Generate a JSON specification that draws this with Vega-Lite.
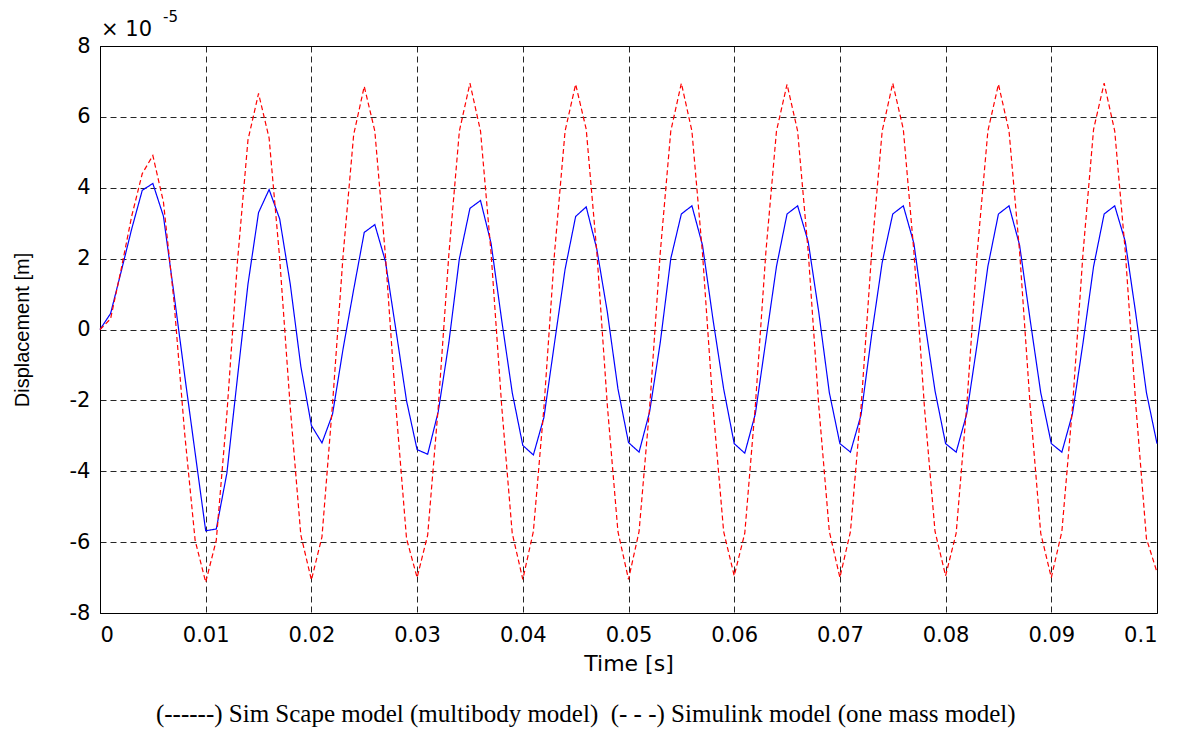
{
  "$schema": "https://vega.github.io/schema/vega-lite/v6.json",
  "width": 1057,
  "height": 567,
  "autosize": {"type": "none"},
  "padding": {"left": 100, "top": 46, "right": 27, "bottom": 118},
  "background": "white",
  "title": {
    "text": "(------) Sim Scape model (multibody model)\u00a0\u00a0(- - -) Simulink model (one mass model)",
    "orient": "bottom",
    "anchor": "middle",
    "frame": "bounds",
    "font": "Liberation Serif",
    "fontSize": 25,
    "fontWeight": "normal",
    "color": "black",
    "offset": 28
  },
  "config": {
    "view": {"stroke": "black", "strokeWidth": 1},
    "axis": {
      "domainColor": "black",
      "domainWidth": 1,
      "grid": true,
      "gridColor": "black",
      "gridDash": [6, 4],
      "gridOpacity": 0.85,
      "gridWidth": 1,
      "ticks": false,
      "labelColor": "black",
      "titleColor": "black",
      "labelFont": "DejaVu Sans",
      "labelFontSize": 21
    }
  },
  "layer": [
    {
      "data": {
        "values": [
          {"t": 0, "SimScape": 0, "Simulink": 0},
          {"t": 0.001, "SimScape": 0.45, "Simulink": 0.3},
          {"t": 0.002, "SimScape": 1.63, "Simulink": 1.7},
          {"t": 0.003, "SimScape": 2.84, "Simulink": 3.2},
          {"t": 0.004, "SimScape": 3.93, "Simulink": 4.4},
          {"t": 0.005, "SimScape": 4.12, "Simulink": 4.91},
          {"t": 0.006, "SimScape": 3.2, "Simulink": 3.6},
          {"t": 0.007, "SimScape": 1.0, "Simulink": 0.8},
          {"t": 0.008, "SimScape": -1.27, "Simulink": -2.9},
          {"t": 0.009, "SimScape": -3.48, "Simulink": -5.95},
          {"t": 0.01, "SimScape": -5.68, "Simulink": -7.13},
          {"t": 0.011, "SimScape": -5.63, "Simulink": -5.95},
          {"t": 0.012, "SimScape": -4.06, "Simulink": -2.4},
          {"t": 0.013, "SimScape": -1.37, "Simulink": 1.9},
          {"t": 0.014, "SimScape": 1.28, "Simulink": 5.35},
          {"t": 0.015, "SimScape": 3.3, "Simulink": 6.66},
          {"t": 0.016, "SimScape": 3.95, "Simulink": 5.4},
          {"t": 0.017, "SimScape": 3.12, "Simulink": 2.0},
          {"t": 0.018, "SimScape": 1.28, "Simulink": -2.2},
          {"t": 0.019, "SimScape": -1.04, "Simulink": -5.8},
          {"t": 0.02, "SimScape": -2.71, "Simulink": -7.07},
          {"t": 0.021, "SimScape": -3.2, "Simulink": -5.85},
          {"t": 0.022, "SimScape": -2.39, "Simulink": -2.1},
          {"t": 0.023, "SimScape": -0.54, "Simulink": 2.1},
          {"t": 0.024, "SimScape": 1.13, "Simulink": 5.5},
          {"t": 0.025, "SimScape": 2.74, "Simulink": 6.86},
          {"t": 0.026, "SimScape": 2.96, "Simulink": 5.6},
          {"t": 0.027, "SimScape": 1.93, "Simulink": 2.1},
          {"t": 0.028, "SimScape": -0.02, "Simulink": -2.2},
          {"t": 0.029, "SimScape": -2.01, "Simulink": -5.9},
          {"t": 0.03, "SimScape": -3.39, "Simulink": -7.0},
          {"t": 0.031, "SimScape": -3.52, "Simulink": -5.8},
          {"t": 0.032, "SimScape": -2.32, "Simulink": -2.2},
          {"t": 0.033, "SimScape": -0.38, "Simulink": 2.1},
          {"t": 0.034, "SimScape": 2.0, "Simulink": 5.6},
          {"t": 0.035, "SimScape": 3.42, "Simulink": 6.95},
          {"t": 0.036, "SimScape": 3.64, "Simulink": 5.6},
          {"t": 0.037, "SimScape": 2.43, "Simulink": 2.15},
          {"t": 0.038, "SimScape": 0.27, "Simulink": -2.15},
          {"t": 0.039, "SimScape": -1.78, "Simulink": -5.75},
          {"t": 0.04, "SimScape": -3.27, "Simulink": -7.05},
          {"t": 0.041, "SimScape": -3.54, "Simulink": -5.7},
          {"t": 0.042, "SimScape": -2.48, "Simulink": -2.2},
          {"t": 0.043, "SimScape": -0.38, "Simulink": 2.15},
          {"t": 0.044, "SimScape": 1.7, "Simulink": 5.6},
          {"t": 0.045, "SimScape": 3.19, "Simulink": 6.92},
          {"t": 0.046, "SimScape": 3.46, "Simulink": 5.65},
          {"t": 0.047, "SimScape": 2.27, "Simulink": 2.2},
          {"t": 0.048, "SimScape": 0.49, "Simulink": -2.15},
          {"t": 0.049, "SimScape": -1.67, "Simulink": -5.7},
          {"t": 0.05, "SimScape": -3.19, "Simulink": -7.05},
          {"t": 0.051, "SimScape": -3.46, "Simulink": -5.7},
          {"t": 0.052, "SimScape": -2.32, "Simulink": -2.2},
          {"t": 0.053, "SimScape": -0.38, "Simulink": 2.15},
          {"t": 0.054, "SimScape": 2.0, "Simulink": 5.6},
          {"t": 0.055, "SimScape": 3.26, "Simulink": 6.95},
          {"t": 0.056, "SimScape": 3.49, "Simulink": 5.6},
          {"t": 0.057, "SimScape": 2.38, "Simulink": 2.15},
          {"t": 0.058, "SimScape": 0.27, "Simulink": -2.2},
          {"t": 0.059, "SimScape": -1.67, "Simulink": -5.7},
          {"t": 0.06, "SimScape": -3.22, "Simulink": -6.95},
          {"t": 0.061, "SimScape": -3.49, "Simulink": -5.75},
          {"t": 0.062, "SimScape": -2.38, "Simulink": -2.15},
          {"t": 0.063, "SimScape": -0.3, "Simulink": 2.2},
          {"t": 0.064, "SimScape": 1.78, "Simulink": 5.6},
          {"t": 0.065, "SimScape": 3.26, "Simulink": 6.92},
          {"t": 0.066, "SimScape": 3.49, "Simulink": 5.6},
          {"t": 0.067, "SimScape": 2.48, "Simulink": 2.2},
          {"t": 0.068, "SimScape": 0.49, "Simulink": -2.15},
          {"t": 0.069, "SimScape": -1.78, "Simulink": -5.7},
          {"t": 0.07, "SimScape": -3.22, "Simulink": -7.0},
          {"t": 0.071, "SimScape": -3.46, "Simulink": -5.7},
          {"t": 0.072, "SimScape": -2.41, "Simulink": -2.2},
          {"t": 0.073, "SimScape": -0.16, "Simulink": 2.15},
          {"t": 0.074, "SimScape": 1.89, "Simulink": 5.6},
          {"t": 0.075, "SimScape": 3.26, "Simulink": 6.95},
          {"t": 0.076, "SimScape": 3.49, "Simulink": 5.65},
          {"t": 0.077, "SimScape": 2.43, "Simulink": 2.2},
          {"t": 0.078, "SimScape": 0.27, "Simulink": -2.2},
          {"t": 0.079, "SimScape": -1.73, "Simulink": -5.7},
          {"t": 0.08, "SimScape": -3.22, "Simulink": -6.95},
          {"t": 0.081, "SimScape": -3.46, "Simulink": -5.75},
          {"t": 0.082, "SimScape": -2.38, "Simulink": -2.15},
          {"t": 0.083, "SimScape": -0.38, "Simulink": 2.2},
          {"t": 0.084, "SimScape": 1.78, "Simulink": 5.6},
          {"t": 0.085, "SimScape": 3.26, "Simulink": 6.92},
          {"t": 0.086, "SimScape": 3.49, "Simulink": 5.6},
          {"t": 0.087, "SimScape": 2.38, "Simulink": 2.2},
          {"t": 0.088, "SimScape": 0.27, "Simulink": -2.15},
          {"t": 0.089, "SimScape": -1.78, "Simulink": -5.75},
          {"t": 0.09, "SimScape": -3.22, "Simulink": -7.0},
          {"t": 0.091, "SimScape": -3.46, "Simulink": -5.7},
          {"t": 0.092, "SimScape": -2.38, "Simulink": -2.2},
          {"t": 0.093, "SimScape": -0.38, "Simulink": 2.15},
          {"t": 0.094, "SimScape": 1.78, "Simulink": 5.65},
          {"t": 0.095, "SimScape": 3.26, "Simulink": 6.95},
          {"t": 0.096, "SimScape": 3.49, "Simulink": 5.6},
          {"t": 0.097, "SimScape": 2.48, "Simulink": 2.2},
          {"t": 0.098, "SimScape": 0.43, "Simulink": -2.15},
          {"t": 0.099, "SimScape": -1.78, "Simulink": -5.9},
          {"t": 0.1, "SimScape": -3.22, "Simulink": -6.85}
        ]
      },
      "transform": [{"fold": ["SimScape", "Simulink"], "as": ["model", "v"]}],
      "mark": {"type": "line", "strokeWidth": 1.2},
      "encoding": {
        "x": {
          "field": "t",
          "type": "quantitative",
          "scale": {"domain": [0, 0.1], "nice": false, "zero": false},
          "axis": {
            "values": [0, 0.01, 0.02, 0.03, 0.04, 0.05, 0.06, 0.07, 0.08, 0.09, 0.1],
            "format": "~g",
            "labelPadding": 11,
            "title": "Time [s]",
            "titleFont": "DejaVu Sans",
            "titleFontSize": 22,
            "titleFontWeight": "normal",
            "titlePadding": 8
          }
        },
        "y": {
          "field": "v",
          "type": "quantitative",
          "scale": {"domain": [-8, 8], "nice": false},
          "axis": {
            "values": [-8, -6, -4, -2, 0, 2, 4, 6, 8],
            "labelExpr": "toString(datum.value)",
            "labelPadding": 10,
            "title": "Displacement [m]",
            "titleFont": "Liberation Sans",
            "titleFontSize": 20,
            "titleFontWeight": "normal",
            "titlePadding": 37
          }
        },
        "color": {
          "field": "model",
          "type": "nominal",
          "scale": {"domain": ["SimScape", "Simulink"], "range": ["#0000ff", "#ff0000"]},
          "legend": null
        },
        "strokeDash": {
          "field": "model",
          "type": "nominal",
          "scale": {"domain": ["SimScape", "Simulink"], "range": [[1, 0], [5, 3]]},
          "legend": null
        }
      }
    },
    {
      "data": {"values": [{"s": "× 10"}]},
      "mark": {"type": "text", "align": "left", "baseline": "alphabetic", "dx": 1, "dy": -10, "font": "DejaVu Sans", "fontSize": 21, "color": "black"},
      "encoding": {
        "x": {"datum": 0, "type": "quantitative"},
        "y": {"datum": 8, "type": "quantitative"},
        "text": {"field": "s"}
      }
    },
    {
      "data": {"values": [{"s": "-5"}]},
      "mark": {"type": "text", "align": "left", "baseline": "alphabetic", "dx": 63, "dy": -24, "font": "DejaVu Sans", "fontSize": 15, "color": "black"},
      "encoding": {
        "x": {"datum": 0, "type": "quantitative"},
        "y": {"datum": 8, "type": "quantitative"},
        "text": {"field": "s"}
      }
    }
  ]
}
